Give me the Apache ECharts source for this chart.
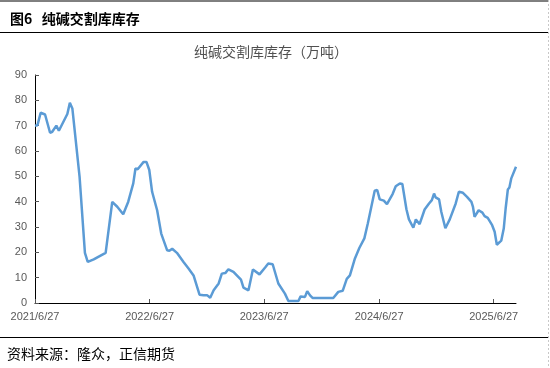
<!DOCTYPE html>
<html>
<head>
<meta charset="utf-8">
<script src="https://cdn.jsdelivr.net/npm/echarts@6/dist/echarts.min.js"></script>
<style>
html,body{margin:0;padding:0;background:#fff;}
#c{width:550px;height:368px;}
</style>
</head>
<body>
<div id="c"></div>
<script>
var headerText = '图6   纯碱交割库库存';
var chartTitle = '纯碱交割库库存（万吨）';
var sourceText = '资料来源：隆众，正信期货';

var tickLabels = ['2021/6/27', '2022/6/27', '2023/6/27', '2024/6/27', '2025/6/27'];
var yTicks = [0, 10, 20, 30, 40, 50, 60, 70, 80, 90];

var dates = [
 '2021-06-27','2021-07-05','2021-07-15','2021-07-29','2021-08-14','2021-08-21','2021-09-03','2021-09-11',
 '2021-10-08','2021-10-16','2021-10-24','2021-11-16','2021-12-03','2021-12-12','2021-12-31',
 '2022-01-16','2022-02-07','2022-02-28','2022-03-16','2022-04-04','2022-04-10','2022-04-20',
 '2022-05-06','2022-05-13','2022-05-20','2022-06-08','2022-06-17','2022-06-26','2022-07-05',
 '2022-07-21','2022-08-03','2022-08-22','2022-08-29','2022-09-07','2022-09-22','2022-10-13',
 '2022-10-29','2022-11-14','2022-12-03','2022-12-16','2022-12-27',
 '2023-01-06','2023-01-17','2023-02-02','2023-02-12','2023-02-23','2023-03-05','2023-03-21',
 '2023-04-14','2023-04-22','2023-05-08','2023-05-22','2023-06-12','2023-06-30','2023-07-10',
 '2023-07-16','2023-07-24','2023-08-11','2023-09-01','2023-09-12','2023-10-14','2023-10-21',
 '2023-11-04','2023-11-11','2023-11-20','2023-11-28',
 '2024-02-02','2024-02-18','2024-03-03','2024-03-16','2024-03-26','2024-04-11','2024-04-25',
 '2024-05-11','2024-05-22','2024-06-13','2024-06-21','2024-06-29','2024-07-12','2024-07-22',
 '2024-08-09','2024-08-19','2024-09-01','2024-09-09','2024-09-22','2024-09-30','2024-10-14',
 '2024-10-22','2024-11-03','2024-11-19','2024-12-03','2024-12-12','2024-12-19','2024-12-24',
 '2025-01-04','2025-01-11','2025-01-24','2025-02-07','2025-02-26','2025-03-08','2025-03-21',
 '2025-04-03','2025-04-17','2025-04-22','2025-04-27','2025-05-10','2025-05-22','2025-05-29',
 '2025-06-08','2025-06-22','2025-06-30','2025-07-07','2025-07-21','2025-07-29','2025-08-04',
 '2025-08-11','2025-08-16','2025-08-22','2025-09-06'
];
var inventory = [
 70.0,70.2,75.1,74.4,67.2,67.6,70.0,68.0,
 74.6,79.0,76.8,49.8,19.8,16.2,17.2,
 18.3,19.8,39.9,38.0,35.0,35.1,40.0,
 47.2,53.1,52.8,55.7,55.7,52.5,43.9,
 36.6,27.4,20.8,20.6,21.4,19.8,16.2,
 13.6,10.9,3.3,3.1,3.1,
 2.1,5.0,7.7,11.6,11.8,13.3,12.3,
 9.2,6.1,5.0,13.2,11.3,14.0,15.6,
 14.9,15.3,7.7,3.7,0.8,0.8,2.6,
 2.4,4.7,3.0,2.0,
 2.0,4.4,4.8,9.5,10.9,17.6,21.7,
 25.5,31.4,44.3,44.6,40.9,40.4,39.0,
 43.0,46.1,47.2,47.0,37.0,33.0,29.7,
 33.0,31.1,36.9,39.3,40.6,43.2,41.7,
 40.9,36.0,29.5,33.0,39.3,43.9,43.5,
 41.9,39.9,37.9,34.0,36.6,35.7,34.3,
 33.6,30.7,28.1,23.0,24.6,29.4,37.3,
 44.8,45.6,49.2,53.8
];

function dayNum(s) {
  var p = s.split(/[-\/]/).map(Number);
  return Date.UTC(p[0], p[1] - 1, p[2]) / 86400000;
}
var origin = dayNum(dates[0]);
var seriesData = dates.map(function (d, i) { return [dayNum(d) - origin, inventory[i]]; });
var tickDays = tickLabels.map(function (t) { return dayNum(t) - origin; });

var chart = echarts.init(document.getElementById('c'), null, {renderer: 'canvas'});
var lblColor = '#595959';
var font = '"Liberation Sans", Arial, "Noto Sans CJK SC", sans-serif';
var cjk = '"Noto Sans CJK SC", sans-serif';
chart.setOption({
  animation: false,
  backgroundColor: '#ffffff',
  textStyle: {fontFamily: font},
  title: [
    {text: headerText, left: 5, top: 7,
     textStyle: {fontSize: 14, fontWeight: 'bold', color: '#000', fontFamily: cjk}},
    {text: chartTitle, left: 189, top: 40,
     textStyle: {fontSize: 14, fontWeight: 'normal', color: '#505050', fontFamily: cjk}},
    {text: sourceText, left: 2, top: 342,
     textStyle: {fontSize: 14, fontWeight: 'normal', color: '#000', fontFamily: cjk}}
  ],
  graphic: [
    {type: 'line', shape: {x1: 0, y1: 1, x2: 548, y2: 1}, style: {stroke: '#000', lineWidth: 1}},
    {type: 'line', shape: {x1: 0, y1: 32.5, x2: 548, y2: 32.5}, style: {stroke: '#000', lineWidth: 1}},
    {type: 'line', shape: {x1: 0, y1: 337.5, x2: 548, y2: 337.5}, style: {stroke: '#000', lineWidth: 1}},
    {type: 'line', shape: {x1: 548.5, y1: 0, x2: 548.5, y2: 368}, style: {stroke: '#c8c8c8', lineWidth: 1, lineDash: [2, 2]}}
  ],
  grid: {left: 35, right: 34, top: 75, bottom: 65, containLabel: false},
  xAxis: {
    type: 'value',
    min: 0,
    max: 'dataMax',
    splitLine: {show: false},
    axisLine: {show: true, onZero: false, lineStyle: {color: '#000', width: 1}},
    axisTick: {show: true, inside: true, length: 4, customValues: tickDays, lineStyle: {color: '#555'}},
    axisLabel: {
      customValues: tickDays,
      color: lblColor, fontSize: 11, margin: 8,
      formatter: function (v) {
        var i = tickDays.indexOf(v);
        return i >= 0 ? tickLabels[i] : '';
      }
    }
  },
  yAxis: {
    type: 'value',
    min: yTicks[0],
    max: yTicks[yTicks.length - 1],
    interval: yTicks[1] - yTicks[0],
    splitLine: {show: false},
    axisLine: {show: true, lineStyle: {color: '#000', width: 1}},
    axisTick: {show: true, inside: true, length: 4, lineStyle: {color: '#555'}},
    axisLabel: {color: lblColor, fontSize: 11, margin: 8}
  },
  series: [{
    type: 'line',
    data: seriesData,
    showSymbol: false,
    symbol: 'none',
    smooth: false,
    lineStyle: {color: '#5B9BD5', width: 2.5},
    itemStyle: {color: '#5B9BD5'}
  }]
});
</script>
</body>
</html>
